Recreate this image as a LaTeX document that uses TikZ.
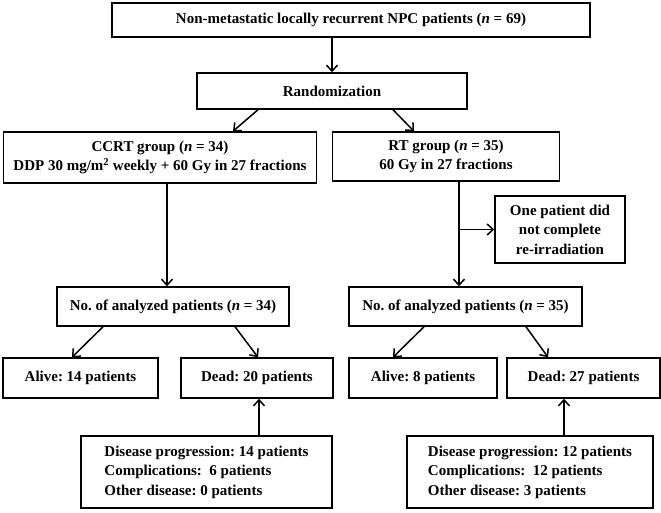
\documentclass[tikz,border=0pt]{standalone}
\usepackage{fontspec}
\setmainfont{Liberation Serif}
\usetikzlibrary{arrows.meta,calc}
\frenchspacing
\begin{document}
\begin{tikzpicture}[x=1pt,y=-1pt,
  box/.style={draw,line width=1.5pt,inner sep=2pt,align=center,font=\bfseries\fontsize{15}{19.5}\selectfont},
  arr/.style={line width=1.5pt,-{Straight Barb[length=6pt,width=11pt,line width=1.5pt]}}]
\useasboundingbox (0,0) rectangle (661,512);
\node[box,minimum width=478,minimum height=34] (top) at (351,20) {Non-metastatic locally recurrent NPC patients (\textit{n} = 69)};
\node[box,minimum width=270,minimum height=36] (rand) at (332,91) {Randomization};
\node[box,minimum width=313,minimum height=51] (ccrt) at (160,157.5) {CCRT group (\textit{n} = 34)\\DDP 30 mg/m\textsuperscript{2} weekly + 60 Gy in 27 fractions};
\node[box,minimum width=227,minimum height=49] (rt) at (446,156.5) {RT group (\textit{n} = 35)\\60 Gy in 27 fractions};
\node[box,minimum width=130,minimum height=67] (one) at (560,229.5) {One patient did\\not complete\\re-irradiation};
\node[box,minimum width=232,minimum height=39] (anL) at (173,306.5) {No. of analyzed patients (\textit{n} = 34)};
\node[box,minimum width=233,minimum height=39] (anR) at (465.5,306.5) {No. of analyzed patients (\textit{n} = 35)};
\node[box,minimum width=155,minimum height=40] (al14) at (80.5,378) {Alive: 14 patients};
\node[box,minimum width=152,minimum height=40] (de20) at (257,378) {Dead: 20 patients};
\node[box,minimum width=148,minimum height=40] (al8) at (423,378) {Alive: 8 patients};
\node[box,minimum width=153,minimum height=40] (de27) at (583.5,378) {Dead: 27 patients};
\node[box,minimum width=251,minimum height=72,align=left] (botL) at (206.5,472) {Disease progression: 14 patients\\Complications: \ 6 patients\\Other disease: 0 patients};
\node[box,minimum width=246,minimum height=72,align=left] (botR) at (530,472) {Disease progression: 12 patients\\Complications: \ 12 patients\\Other disease: 3 patients};
\draw[arr] (top.south -| rand.north) -- (rand.north);
\draw[arr] ([xshift=-74]rand.south) -- ([xshift=73]ccrt.north);
\draw[arr] ([xshift=61]rand.south) -- ([xshift=-32]rt.north);
\draw[arr] ([xshift=7]ccrt.south) -- ([xshift=7]ccrt.south |- anL.north);
\coordinate (rtb) at ([xshift=13]rt.south);
\draw[arr] (rtb) -- (rtb |- anR.north);
\draw[arr] (rtb |- one.west) -- (one.west);
\draw[arr] ([xshift=-70]anL.south) -- ([xshift=-8.5]al14.north);
\draw[arr] ([xshift=62]anL.south) -- ([xshift=1]de20.north);
\draw[arr] ([xshift=-41.5]anR.south) -- ([xshift=-30]al8.north);
\draw[arr] ([xshift=60.5]anR.south) -- ([xshift=-35.5]de27.north);
\draw[arr] ([xshift=2]de20.south |- botL.north) -- ([xshift=2]de20.south);
\draw[arr] ([xshift=-19.5]de27.south |- botR.north) -- ([xshift=-19.5]de27.south);
\end{tikzpicture}
\end{document}
